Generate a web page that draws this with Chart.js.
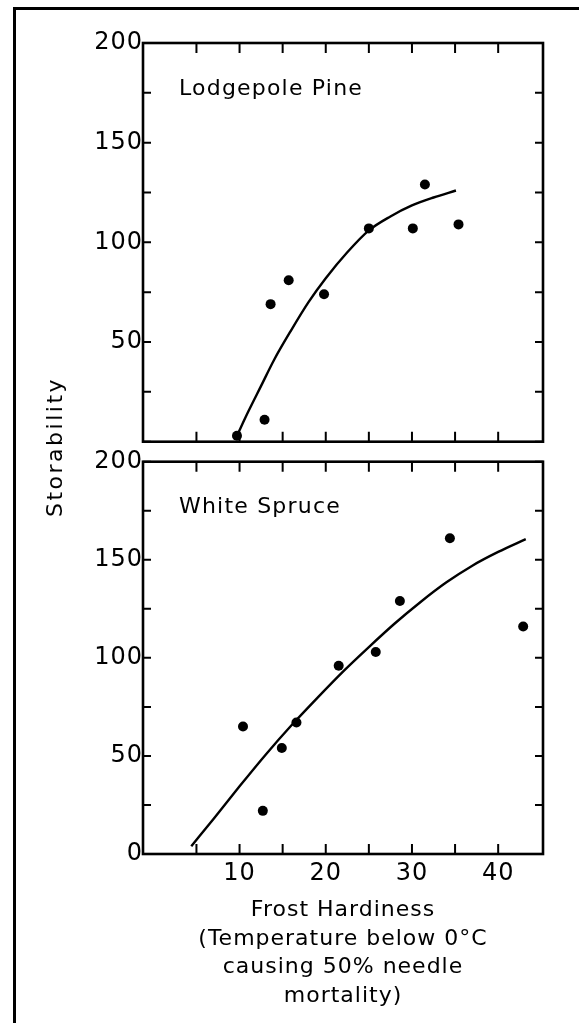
<!DOCTYPE html>
<html>
<head>
<meta charset="utf-8">
<script src="https://cdn.jsdelivr.net/npm/chart.js@4.4.1/dist/chart.umd.min.js"></script>
<style>
  html, body { margin: 0; padding: 0; background: #fff; }
  body { width: 579px; height: 1023px; position: relative; overflow: hidden; font-family: "DejaVu Sans", sans-serif; }
  #frame { position: absolute; left: 13px; top: 7px; width: 700px; height: 1100px; border-left: 3px solid #000; border-top: 3px solid #000; }
  canvas { position: absolute; left: 0; }
  #top { top: 0; }
  #bottom { top: 445px; }
  #ylabel { position: absolute; left: 55px; top: 447px; transform: translate(-50%, -50%) rotate(-90deg);
            font-size: 22px; letter-spacing: 2.5px; line-height: 1; white-space: nowrap; color: #000; }
</style>
</head>
<body>
<div id="frame"></div>
<canvas id="top" width="579" height="460"></canvas>
<canvas id="bottom" width="579" height="578"></canvas>
<div id="ylabel">Storability</div>
<script>
// Lodgepole Pine: measured points and fitted curve
const pineHardiness = [9.7, 12.9, 13.6, 15.7, 19.8, 25.0, 30.1, 31.5, 35.4];
const pineStorability = [3, 11, 69, 81, 74, 107, 107, 129, 109];
const pineFitX = [9.7, 11, 12.5, 14, 16, 18, 20, 22.5, 25, 27.5, 30, 32.5, 35.1];
const pineFitY = [3, 15, 28, 41, 56, 70, 82, 95, 106, 113, 118.5, 122.5, 126];

// White Spruce
const spruceHardiness = [10.4, 12.7, 14.9, 16.6, 21.5, 25.8, 28.6, 34.4, 42.9];
const spruceStorability = [65, 22, 54, 67, 96, 103, 129, 161, 116];
const spruceFitX = [4.4, 7, 10, 13, 16, 19, 22, 25, 28, 31, 34, 37, 40, 43.2];
const spruceFitY = [4, 18, 34.5, 50.5, 65.5, 79.5, 93, 105.5, 117.5, 128.5, 138.5, 147, 154, 160.5];

// ticks
const xTickValues = [5, 10, 15, 20, 25, 30, 35, 40];
const xTickLabels = ['', '10', '', '20', '', '30', '', '40'];
const yTickValues = [0, 25, 50, 75, 100, 125, 150, 175, 200];
const yTickLabelsTop = ['', '', '50', '', '100', '', '150', '', '200'];
const yTickLabelsBottom = ['0', '', '50', '', '100', '', '150', '', '200'];

const xTitle = ['Frost Hardiness', '(Temperature below 0°C', 'causing 50% needle', 'mortality)'];

const FONT = 'DejaVu Sans';

// box with inward ticks on all four sides + panel name
const panelPlugin = {
    id: 'panel',
    beforeDraw(chart) {
        chart.ctx.letterSpacing = '1px';
    },
    afterDraw(chart, args, opts) {
        const ctx = chart.ctx;
        const a = chart.chartArea;
        const x = chart.scales.x;
        const y = chart.scales.y;
        ctx.save();
        ctx.strokeStyle = '#000';
        ctx.lineWidth = 2;
        ctx.beginPath();
        x.ticks.forEach(t => {
            const px = x.getPixelForValue(t.value);
            ctx.moveTo(px, a.bottom); ctx.lineTo(px, a.bottom - 10);
            ctx.moveTo(px, a.top); ctx.lineTo(px, a.top + 10);
        });
        y.ticks.forEach(t => {
            const py = y.getPixelForValue(t.value);
            ctx.moveTo(a.left, py); ctx.lineTo(a.left + 8, py);
            ctx.moveTo(a.right, py); ctx.lineTo(a.right - 8, py);
        });
        ctx.stroke();
        ctx.lineWidth = 2.6;
        ctx.strokeRect(a.left, a.top, a.right - a.left, a.bottom - a.top);

        ctx.fillStyle = '#000';
        ctx.font = '22px "' + FONT + '"';
        ctx.letterSpacing = '1.2px';
        ctx.textAlign = 'left';
        ctx.textBaseline = 'alphabetic';
        ctx.fillText(opts.title, a.left + 36, a.top + 51.5);
        ctx.restore();
        ctx.letterSpacing = '0px';
    }
};

function drawPanel(id, title, ptsX, ptsY, fitX, fitY, yLabels, showX) {

    const canvas = document.getElementById(id);

    return new Chart(canvas, {

        type: 'scatter',

        data: {
            datasets: [
                {
                    data: ptsX.map((v, i) => ({ x: v, y: ptsY[i] })),
                    pointRadius: 5,
                    pointBackgroundColor: '#000',
                    pointBorderWidth: 0,
                    showLine: false,
                    clip: false
                },
                {
                    data: fitX.map((v, i) => ({ x: v, y: fitY[i] })),
                    showLine: true,
                    borderColor: '#000',
                    borderWidth: 2.4,
                    pointRadius: 0,
                    cubicInterpolationMode: 'monotone',
                    clip: false
                }
            ]
        },

        options: {
            responsive: false,
            animation: false,
            devicePixelRatio: 1,
            layout: {
                padding: showX
                    ? { top: 16.7, right: 36, bottom: 13, left: 0 }
                    : { top: 43, right: 36, bottom: 0, left: 0 }
            },
            plugins: {
                legend: { display: false },
                tooltip: { enabled: false },
                panel: { title: title }
            },
            scales: {
                x: {
                    type: 'linear',
                    min: -1.2,
                    max: 45.2,
                    grid: { display: false, drawTicks: false },
                    border: { display: false },
                    afterBuildTicks: s => { s.ticks = xTickValues.map(v => ({ value: v })); },
                    afterFit: s => { s.height = showX ? 156 : 18.3; },
                    ticks: {
                        display: showX,
                        autoSkip: false,
                        maxRotation: 0,
                        padding: 5,
                        color: '#000',
                        font: { family: FONT, size: 24 },
                        callback: (v, i) => xTickLabels[i]
                    },
                    title: {
                        display: showX,
                        text: xTitle,
                        color: '#000',
                        font: { family: FONT, size: 22, lineHeight: 1.29 },
                        padding: 0
                    }
                },
                y: {
                    type: 'linear',
                    min: 0,
                    max: 200,
                    grid: { display: false, drawTicks: false },
                    border: { display: false },
                    afterBuildTicks: s => { s.ticks = yTickValues.map(v => ({ value: v })); },
                    afterFit: s => { s.width = 143; },
                    ticks: {
                        padding: 0,
                        color: '#000',
                        font: { family: FONT, size: 24 },
                        callback: (v, i) => yLabels[i]
                    }
                }
            }
        },

        plugins: [panelPlugin]

    });

}

drawPanel('top', 'Lodgepole Pine', pineHardiness, pineStorability, pineFitX, pineFitY, yTickLabelsTop, false);
drawPanel('bottom', 'White Spruce', spruceHardiness, spruceStorability, spruceFitX, spruceFitY, yTickLabelsBottom, true);
</script>
</body>
</html>
